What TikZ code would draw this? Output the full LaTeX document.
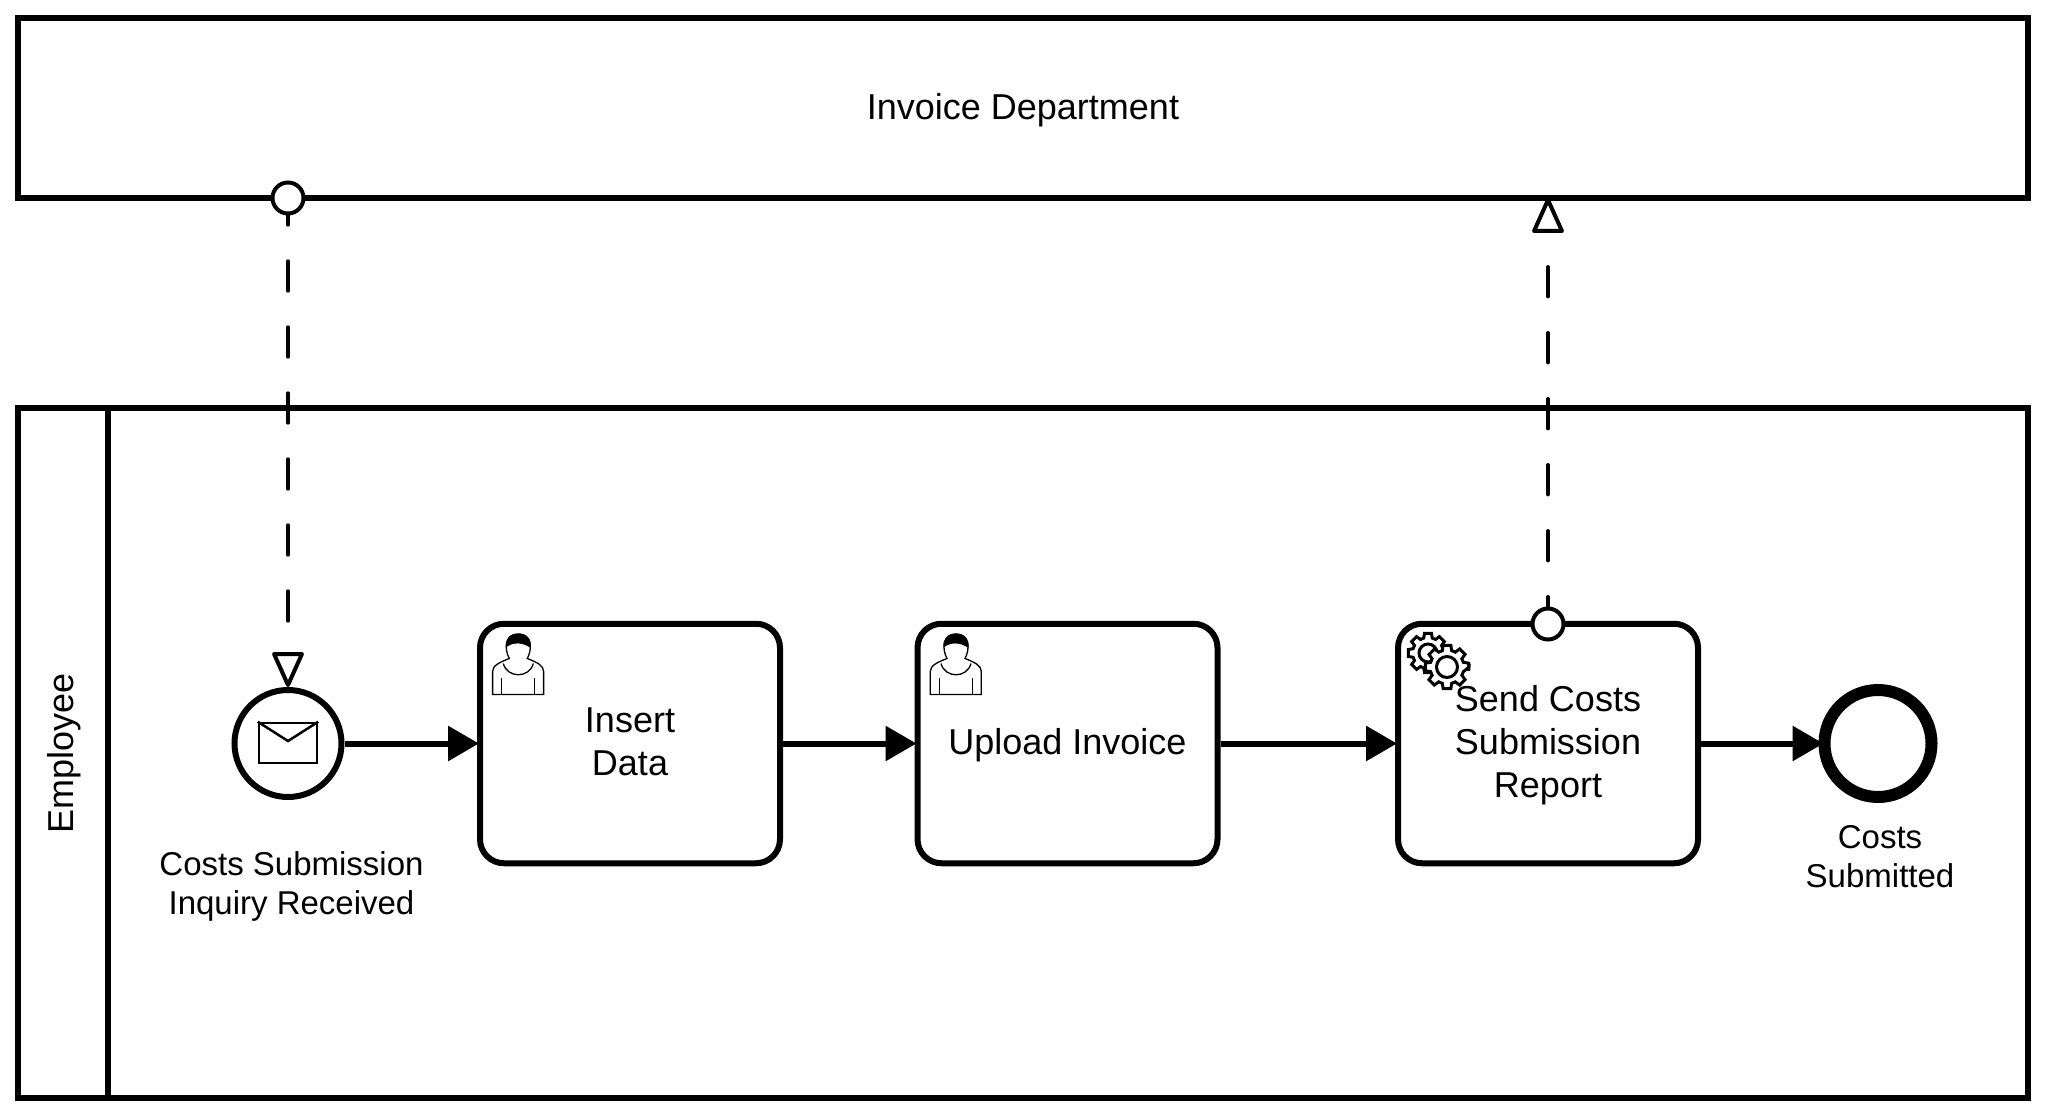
\documentclass[tikz,border=0pt]{standalone}
\usepackage{fontspec}
\setmainfont{Liberation Sans}
\usetikzlibrary{arrows.meta}
\newcommand{\fs}[2]{\fontsize{#1}{#2}\selectfont}
\tikzset{
  x=1pt,y=-1pt,
  pool/.style={draw=black,line width=6pt,fill=white,minimum width=2010pt,inner sep=0pt,outer sep=0pt,anchor=north west,font=\fs{36}{43}},
  task/.style={draw=black,line width=6pt,fill=white,rounded corners=24pt,minimum width=300pt,minimum height=239.5pt,inner sep=0pt},
  tasktext/.style={align=center,inner sep=0pt,font=\fs{36}{43}},
  startev/.style={circle,draw=black,line width=6pt,fill=white,minimum size=107pt,inner sep=0pt},
  endev/.style={circle,draw=black,line width=12pt,fill=white,minimum size=107pt,inner sep=0pt},
  port/.style={circle,draw=black,line width=4pt,fill=white,minimum size=31pt,inner sep=0pt},
  evlabel/.style={align=center,inner sep=0pt,font=\fs{33}{39}},
  seq/.style={line width=6pt,-{Triangle[length=31pt,width=34pt]},shorten >=-2pt},
  msg/.style={line width=4pt,line cap=round,dash pattern=on 29.4pt off 36.6pt,
     -{Triangle[open,length=38pt,width=33pt,line width=4pt,fill=white,round=false]}},
  ico/.style={line width=1.3pt,draw=black,fill=white},
  gearline/.style={line width=3pt,draw=black,fill=white,line join=miter}
}
\newcommand{\usericon}[2]{%
  \begin{scope}[shift={(#1,#2)}]
    \draw[ico] (7.3,67) -- (7.3,44) .. controls (7.3,38) and (14,35) .. (24,31)
       .. controls (19,22) and (19,6.5) .. (33,6.5) .. controls (47,6.5) and (47,22) .. (42,31)
       .. controls (52,35) and (58.3,38) .. (58.3,44) -- (58.3,67) -- cycle;
    \draw[ico,fill=none] (18,36) .. controls (22,51) and (44,51) .. (48,36);
    \draw[ico] (16.5,50) -- (16.5,67) (49.5,50) -- (49.5,67);
    \fill[black] (20.6,20) .. controls (19.5,12) and (24,6) .. (33,6)
       .. controls (42,6) and (46.5,12) .. (45.4,20.5)
       .. controls (38,15) and (28,14) .. (20.6,20) -- cycle;
  \end{scope}}
\newcommand{\gearicon}[5]{%
  \begin{scope}[shift={(#1,#2)}]
    \path[gearline] (0:#3pt)
      foreach \a in {0,45,...,315} { -- (\a-10:#3pt) -- (\a+10:#3pt) -- (\a+16:#4pt) -- (\a+29:#4pt) } -- cycle;
    \draw[gearline] (0,0) circle (#5pt);
  \end{scope}}
\begin{document}
\begin{tikzpicture}
\useasboundingbox (0,0) rectangle (2046,1116);
% pools
\node[pool,minimum height=180pt] (dept) at (18,18) {};
\node[tasktext] (depttext) at (1023,110) {Invoice Department};
\node[pool,minimum height=690pt] (emp) at (18,408) {};
\coordinate (lanetop) at (108,408);
\coordinate (lanebot) at (108,1098);
\draw[line width=6pt] (lanetop) -- (lanebot);
\node[rotate=90,font=\fs{36}{43},inner sep=0pt] (emplabel) at (64.6,753) {Employee};
% elements
\node[startev] (start) at (288,743.5) {};
\node[task] (t1) at (630,743.5) {};
\node[task] (t2) at (1067.5,743.5) {};
\node[task] (t3) at (1548,743.5) {};
\node[endev] (end) at (1878,743.5) {};
% envelope
\node[draw=black,line width=2.5pt,fill=white,minimum width=58pt,minimum height=40pt,inner sep=0pt] (env) at (288,743) {};
\draw[line width=2.5pt] (env.north west) -- (288,741) -- (env.north east);
% icons
\usericon{485.3}{627.5}
\usericon{923}{627.5}
\gearicon{1428}{653}{20}{15.5}{9}
\gearicon{1447}{667}{22}{17}{10.5}
% texts
\node[tasktext] (t1text) at (630,741.4) {Insert\\Data};
\node[tasktext] (t2text) at (1067.5,745.3) {Upload Invoice};
\node[tasktext] (t3text) at (1548,745.3) {Send Costs\\Submission\\Report};
\node[evlabel] (l1) at (291.5,886) {Costs Submission\\Inquiry Received};
\node[evlabel] (l2) at (1880,856.7) {Costs\\Submitted};
% sequence flows
\draw[seq] (start.east) -- (t1.west);
\draw[seq] (t1.east) -- (t2.west);
\draw[seq] (t2.east) -- (t3.west);
\draw[seq,shorten >=-5pt] (t3.east) -- (end.west);
% message flows
\coordinate (m1s) at (288,198);
\coordinate (m2s) at (1548,624);
\coordinate (m2e) at (1548,198);
\draw[msg,dash phase=2.7pt] (m1s) -- (start.north);
\draw[msg,dash phase=2.4pt] (m2s) -- (m2e);
\node[port] (p1) at (m1s) {};
\node[port] (p2) at (m2s) {};
\end{tikzpicture}
\end{document}
